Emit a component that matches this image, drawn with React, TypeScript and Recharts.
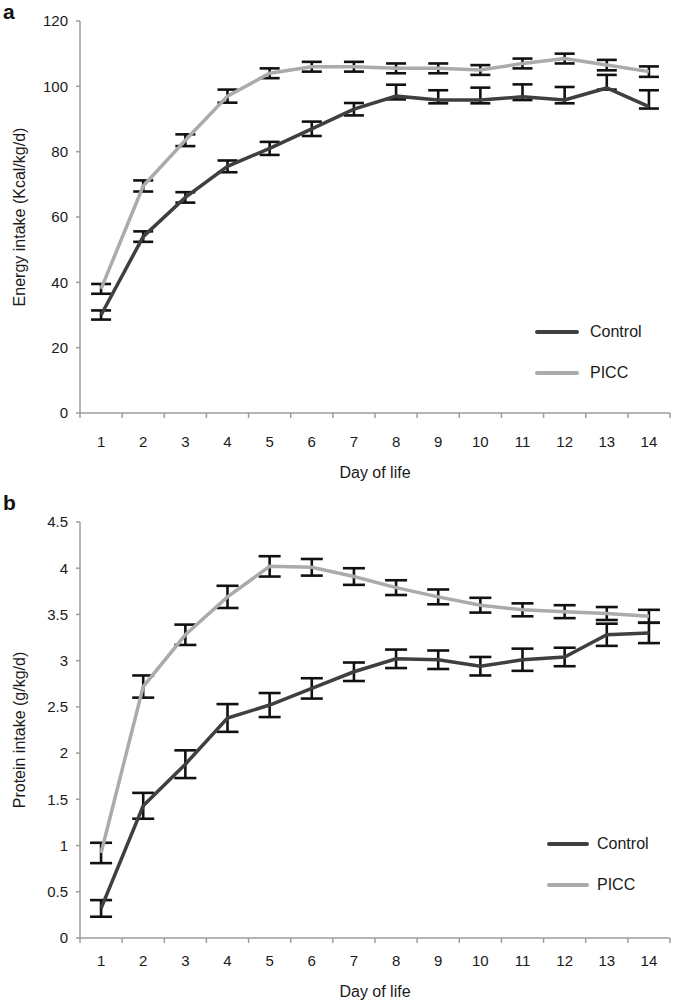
import React from 'react';
import { LineChart, Line, XAxis, YAxis, ErrorBar, Legend } from 'recharts';

// ---------- data ----------
const days = [1, 2, 3, 4, 5, 6, 7, 8, 9, 10, 11, 12, 13, 14];

// Panel a: Energy intake (Kcal/kg/d)
const energyControl = [30, 54, 66, 75.5, 81, 87, 93, 97, 95.8, 95.8, 96.8, 95.8, 99.5, 93.8];
const energyControlErr = [
  [1.4, 1.4], [1.6, 1.6], [1.6, 1.6], [1.8, 1.8], [2, 2], [2.2, 2.2], [1.9, 1.9],
  [1, 3.5], [1, 3], [1, 3.8], [1, 3.8], [1, 4], [0.5, 4], [0.6, 5],
];
const energyPicc = [38, 69.5, 83.5, 97, 104, 106, 106, 105.5, 105.5, 105, 107, 108.5, 106.5, 104.5];
const energyPiccErr = [1.5, 1.7, 1.8, 2, 1.5, 1.5, 1.5, 1.5, 1.5, 1.5, 1.5, 1.5, 1.6, 1.6];
const energyTicks = [0, 20, 40, 60, 80, 100, 120];

// Panel b: Protein intake (g/kg/d)
const proteinControl = [0.32, 1.43, 1.88, 2.38, 2.52, 2.7, 2.88, 3.02, 3.01, 2.94, 3.01, 3.04, 3.28, 3.3];
const proteinControlErr = [0.09, 0.14, 0.15, 0.15, 0.13, 0.11, 0.1, 0.1, 0.1, 0.1, 0.12, 0.1, 0.12, 0.11];
const proteinPicc = [0.92, 2.72, 3.28, 3.69, 4.02, 4.01, 3.91, 3.79, 3.69, 3.6, 3.55, 3.53, 3.51, 3.48];
const proteinPiccErr = [0.11, 0.12, 0.11, 0.12, 0.11, 0.09, 0.09, 0.08, 0.08, 0.08, 0.07, 0.07, 0.07, 0.07];
const proteinTicks = [0, 0.5, 1, 1.5, 2, 2.5, 3, 3.5, 4, 4.5];

const seriesNames = ['Control', 'PICC'];
const xTitle = 'Day of life';

// ---------- styles ----------
const FONT = '"Liberation Sans", Arial, Helvetica, sans-serif';
const AXIS = '#9c9c9c';
const TEXT = '#1a1a1a';
const CONTROL_COLOR = '#3f3f3f';
const PICC_COLOR = '#ababab';
const ERR_COLOR = '#111111';

const dayBoundaries = [days[0] - 0.5, ...days.map((d) => d + 0.5)];
const xTicks = [...dayBoundaries, ...days].sort((a, b) => a - b);

const makeXTick = (labelDy: number) => (props: any) => {
  const { x, y, payload } = props;
  const v = payload.value;
  if (!Number.isInteger(v)) {
    return <line x1={x} x2={x} y1={y} y2={y + 5} stroke={AXIS} strokeWidth={1.5} />;
  }
  return (
    <text x={x} y={y + labelDy} textAnchor="middle" fontSize={15} fill={TEXT}>
      {v}
    </text>
  );
};

const makeYLabel = (text: string, cx: number) => (props: any) => {
  const vb = props.viewBox || {};
  const cy = vb.y + vb.height / 2;
  return (
    <text
      x={cx}
      y={cy}
      transform={`rotate(-90 ${cx} ${cy})`}
      textAnchor="middle"
      dominantBaseline="central"
      fontSize={16}
      fill={TEXT}
    >
      {text}
    </text>
  );
};

const makeXLabel = (text: string, dy: number) => (props: any) => {
  const vb = props.viewBox || {};
  const cx = vb.x + vb.width / 2;
  return (
    <text x={cx} y={vb.y + dy} textAnchor="middle" fontSize={16} fill={TEXT}>
      {text}
    </text>
  );
};

const makeLegend = (lineW: number, gap: number) => () => (
  <div style={{ fontFamily: FONT, fontSize: 16, color: TEXT }}>
    {seriesNames.map((name, i) => (
      <div
        key={name}
        style={{ display: 'flex', alignItems: 'center', height: 24, marginBottom: i === 0 ? 17 : 0 }}
      >
        <div
          style={{
            width: lineW,
            height: 4,
            borderRadius: 2,
            background: i === 0 ? CONTROL_COLOR : PICC_COLOR,
            marginRight: gap,
          }}
        />
        <span>{name}</span>
      </div>
    ))}
  </div>
);

type PanelProps = {
  data: any[];
  width: number;
  height: number;
  marginTop: number;
  xAxisHeight: number;
  domain: [number, number];
  yTicks: number[];
  yTitle: string;
  xLabelDy: number;
  xTitleDy: number;
  legendLeft: number;
  legendTop: number;
  legendLineW: number;
  legendGap: number;
  capWidth: number;
};

function Panel(p: PanelProps) {
  return (
    <LineChart
      width={p.width}
      height={p.height}
      data={p.data}
      margin={{ top: p.marginTop, right: 15, bottom: 0, left: 0 }}
    >
      <XAxis
        dataKey="day"
        type="number"
        domain={[dayBoundaries[0], dayBoundaries[dayBoundaries.length - 1]]}
        ticks={xTicks}
        interval={0}
        allowDecimals
        height={p.xAxisHeight}
        tickSize={0}
        tickMargin={0}
        tickLine={false}
        axisLine={{ stroke: AXIS, strokeWidth: 1.5 }}
        tick={makeXTick(p.xLabelDy)}
        label={makeXLabel(xTitle, p.xTitleDy)}
      />
      <YAxis
        width={80}
        domain={p.domain}
        ticks={p.yTicks}
        interval={0}
        allowDecimals
        tickSize={4}
        tickMargin={8}
        axisLine={{ stroke: AXIS, strokeWidth: 1.5 }}
        tickLine={{ stroke: AXIS, strokeWidth: 1.5 }}
        tick={{ fontSize: 15, fill: TEXT }}
        label={makeYLabel(p.yTitle, 19)}
      />
      <Legend
        layout="vertical"
        align="center"
        verticalAlign="middle"
        content={makeLegend(p.legendLineW, p.legendGap)}
        wrapperStyle={{ left: p.legendLeft, top: p.legendTop, width: 150 }}
      />
      <Line
        type="linear"
        dataKey="picc"
        name="PICC"
        stroke={PICC_COLOR}
        strokeWidth={3.5}
        dot={false}
        activeDot={false}
        isAnimationActive={false}
      >
        <ErrorBar dataKey="piccErr" width={p.capWidth} stroke={ERR_COLOR} strokeWidth={2.6} direction="y" />
      </Line>
      <Line
        type="linear"
        dataKey="control"
        name="Control"
        stroke={CONTROL_COLOR}
        strokeWidth={3.5}
        dot={false}
        activeDot={false}
        isAnimationActive={false}
      >
        <ErrorBar dataKey="controlErr" width={p.capWidth} stroke={ERR_COLOR} strokeWidth={2.6} direction="y" />
      </Line>
    </LineChart>
  );
}

const energyData = days.map((day, i) => ({
  day,
  control: energyControl[i],
  controlErr: energyControlErr[i],
  picc: energyPicc[i],
  piccErr: energyPiccErr[i],
}));

const proteinData = days.map((day, i) => ({
  day,
  control: proteinControl[i],
  controlErr: proteinControlErr[i],
  picc: proteinPicc[i],
  piccErr: proteinPiccErr[i],
}));

const panelLabelStyle: React.CSSProperties = {
  position: 'absolute',
  left: 3,
  fontSize: 21,
  fontWeight: 'bold',
  color: '#111',
  lineHeight: 'normal',
};

export default function App() {
  return (
    <div
      style={{
        position: 'absolute',
        left: 0,
        top: 0,
        width: 685,
        height: 1003,
        background: '#fff',
        fontFamily: FONT,
        overflow: 'hidden',
      }}
    >
      <div style={{ position: 'absolute', left: 0, top: 0 }}>
        <Panel
          data={energyData}
          width={685}
          height={490}
          marginTop={21}
          xAxisHeight={77}
          domain={[0, 120]}
          yTicks={energyTicks}
          yTitle="Energy intake (Kcal/kg/d)"
          xLabelDy={34}
          xTitleDy={65}
          legendLeft={535}
          legendTop={320}
          legendLineW={44}
          legendGap={11}
          capWidth={10}
        />
      </div>
      <div style={{ position: 'absolute', left: 0, top: 490 }}>
        <Panel
          data={proteinData}
          width={685}
          height={513}
          marginTop={32}
          xAxisHeight={65}
          domain={[0, 4.5]}
          yTicks={proteinTicks}
          yTitle="Protein intake (g/kg/d)"
          xLabelDy={28}
          xTitleDy={59}
          legendLeft={547}
          legendTop={342}
          legendLineW={42}
          legendGap={8}
          capWidth={11}
        />
      </div>
      <div style={{ ...panelLabelStyle, top: 0 }}>a</div>
      <div style={{ ...panelLabelStyle, top: 491 }}>b</div>
    </div>
  );
}
